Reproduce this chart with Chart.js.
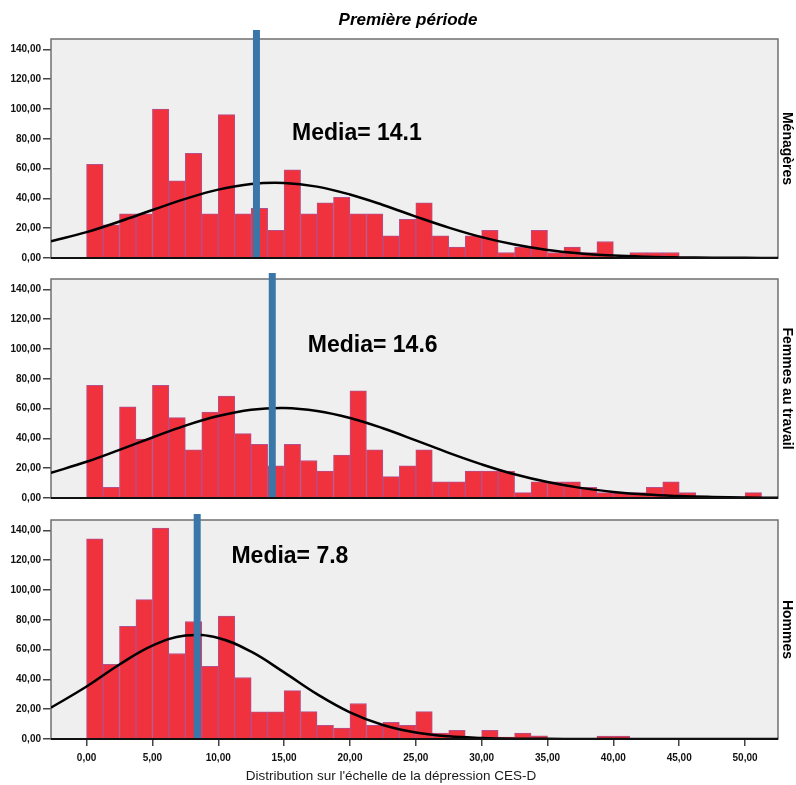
<!DOCTYPE html>
<html lang="fr">
<head>
<meta charset="utf-8">
<title>Première période</title>
<script src="https://cdn.jsdelivr.net/npm/chart.js@4.4.1/dist/chart.umd.min.js"></script>
<style>
  html, body { margin: 0; padding: 0; background: #fff; }
  #wrap { position: relative; width: 796px; height: 785px; }
  .panel { position: absolute; left: 0; width: 796px; }
</style>
</head>
<body>
<div id="wrap">
  <div class="panel" style="top:0;height:268px"><canvas id="c1" width="796" height="268"></canvas></div>
  <div class="panel" style="top:268px;height:240px"><canvas id="c2" width="796" height="240"></canvas></div>
  <div class="panel" style="top:508px;height:277px"><canvas id="c3" width="796" height="277"></canvas></div>
</div>
<script>
// bornes inférieures des classes (largeur 1,25)
const binStarts = [0, 1.25, 2.5, 3.75, 5, 6.25, 7.5, 8.75, 10, 11.25, 12.5, 13.75, 15, 16.25,
  17.5, 18.75, 20, 21.25, 22.5, 23.75, 25, 26.25, 27.5, 28.75, 30, 31.25, 32.5, 33.75, 35, 36.25,
  37.5, 38.75, 40, 41.25, 42.5, 43.75, 45, 46.25, 47.5, 48.75, 50, 51.25];

// effectifs par classe
const menageres = [62.9, 22.2, 29.6, 29.6, 99.9, 51.8, 70.3, 29.6, 96.2, 29.6, 33.3, 18.5, 59.2, 29.6,
  37.0, 40.7, 29.6, 29.6, 14.8, 25.9, 37.0, 14.8, 7.4, 14.8, 18.5, 3.7, 7.4, 18.5, 3.7, 7.4,
  3.7, 11.1, 0, 3.7, 3.7, 3.7, 0, 0, 0, 0, 0, 0];
const femmesTravail = [75.6, 7.2, 61.2, 39.6, 75.6, 54.0, 32.4, 57.6, 68.4, 43.2, 36.0, 21.6, 36.0, 25.2,
  18.0, 28.8, 72.0, 32.4, 14.4, 21.6, 32.4, 10.8, 10.8, 18.0, 18.0, 18.0, 3.6, 10.8, 10.8, 10.8,
  7.2, 3.6, 3.6, 3.6, 7.2, 10.8, 3.6, 0, 0, 0, 3.6, 0];
const hommes = [134.3, 50.2, 75.6, 93.5, 141.5, 57.4, 78.9, 48.7, 82.5, 41.3, 18.2, 18.2, 32.5, 18.4,
  9.2, 7.4, 23.8, 9.2, 11.2, 9.2, 18.4, 4.0, 5.8, 1.3, 5.8, 1.3, 4.0, 2.2, 0, 0,
  0, 2.0, 2.0, 0, 0, 0, 0, 0, 0, 0, 0, 0];

// courbe normale
const curveX = [-2.7, 0, 2.5, 5, 7.5, 10, 12.5, 15, 17.5, 20, 22.5, 25, 27.5, 30, 32.5, 35,
  37.5, 40, 42.5, 45, 47.5, 50, 52.5];
const curveMenageres = [11.2, 17.4, 24.5, 32.2, 39.7, 45.9, 49.7, 50.4, 47.9, 42.6, 35.6, 27.8,
  20.4, 14.0, 9.0, 5.4, 3.1, 1.6, 0.8, 0.4, 0.2, 0.1, 0];
const curveFemmes = [16.9, 24.3, 32.3, 40.6, 48.6, 55.0, 59.2, 60.4, 58.4, 53.7, 46.8, 38.7,
  30.3, 22.6, 15.9, 10.7, 6.8, 4.1, 2.3, 1.3, 0.7, 0.3, 0.2];
const curveHommes = [21.0, 35.2, 50.0, 62.7, 69.4, 67.8, 58.6, 44.7, 30.1, 17.9, 9.4, 4.4,
  1.8, 0.7, 0.2, 0.1, 0, 0, 0, 0, 0, 0, 0];

// position de la barre bleue (moyenne)
const meanLines = [12.9, 14.1, 8.4];
const mediaLabels = ['Media= 14.1', 'Media= 14.6', 'Media= 7.8'];
const panelNames = ['Ménagères', 'Femmes au travail', 'Hommes'];

const yTicks = [0, 20, 40, 60, 80, 100, 120, 140];
const xTicks = [0, 5, 10, 15, 20, 25, 30, 35, 40, 45, 50];

const X_MIN = -2.7, X_MAX = 52.5, Y_MAX = 147;
const fmt = v => v.toFixed(2).replace('.', ',');
const SANS = '"Liberation Sans", Arial, sans-serif';
const NARROW = '"Liberation Sans Narrow", "Arial Narrow", "Liberation Sans", Arial, sans-serif';

// fond gris, cadre, textes du panneau
const decor = {
  id: 'decor',
  beforeDraw(chart) {
    const { ctx, chartArea: a } = chart;
    ctx.save();
    ctx.fillStyle = '#efefef';
    ctx.fillRect(a.left, a.top, a.right - a.left, a.bottom - a.top);
    ctx.restore();
  },
  beforeDatasetsDraw(chart) {
    const { ctx, chartArea: a } = chart;
    ctx.save();
    ctx.strokeStyle = '#707070';
    ctx.lineWidth = 1.5;
    ctx.strokeRect(a.left, a.top, a.right - a.left, a.bottom - a.top);
    ctx.restore();
  },
  afterDraw(chart, args, opts) {
    const { ctx, chartArea: a, scales } = chart;
    ctx.save();
    ctx.strokeStyle = '#111';
    ctx.lineWidth = 2;
    ctx.beginPath();
    ctx.moveTo(a.left, a.bottom);
    ctx.lineTo(a.right, a.bottom);
    ctx.stroke();

    ctx.fillStyle = '#000';
    ctx.font = 'bold 23px ' + SANS;
    ctx.textAlign = 'left';
    ctx.textBaseline = 'alphabetic';
    ctx.fillText(opts.media, scales.x.getPixelForValue(opts.mediaAt[0]), scales.y.getPixelForValue(opts.mediaAt[1]));

    ctx.font = 'bold 14px ' + SANS;
    ctx.textAlign = 'center';
    ctx.textBaseline = 'middle';
    ctx.translate(787, (a.top + a.bottom) / 2);
    ctx.rotate(Math.PI / 2);
    ctx.fillText(opts.name, 0, 0);
    ctx.restore();

    if (opts.title) {
      ctx.save();
      ctx.fillStyle = '#000';
      ctx.font = 'italic bold 17px ' + SANS;
      ctx.textAlign = 'center';
      ctx.textBaseline = 'middle';
      ctx.fillText(opts.title, 408, 20);
      ctx.restore();
    }

    // titre de l'axe des x (décalé à gauche comme dans l'original)
    if (opts.xTitle) {
      ctx.save();
      ctx.fillStyle = '#1a1a1a';
      ctx.font = '13.5px ' + SANS;
      ctx.textAlign = 'center';
      ctx.textBaseline = 'middle';
      ctx.fillText(opts.xTitle, 391, a.bottom + 37);
      ctx.restore();
    }
  }
};

function makePanel(id, i, values, curve, cfg) {
  const ctx = document.getElementById(id).getContext('2d');
  return new Chart(ctx, {
    type: 'bar',
    data: {
      datasets: [
        {
          type: 'line',
          data: [{ x: meanLines[i], y: 0 }, { x: meanLines[i], y: cfg.lineTop }],
          borderColor: '#3a76a8',
          borderWidth: 7,
          borderCapStyle: 'butt',
          pointRadius: 0,
          clip: false,
          order: 1,
        },
        {
          type: 'line',
          data: curveX.map((x, k) => ({ x: x, y: curve[k] })),
          borderColor: '#000',
          borderWidth: 2.5,
          pointRadius: 0,
          tension: 0.4,
          fill: false,
          order: 2,
        },
        {
          type: 'bar',
          data: binStarts.map((b, k) => ({ x: b + 0.625, y: values[k] })),
          backgroundColor: '#ef323d',
          borderColor: '#b4508c',
          borderWidth: 1,
          borderSkipped: 'bottom',
          barPercentage: 1,
          categoryPercentage: 1,
          order: 3,
        },
      ],
    },
    options: {
      responsive: false,
      animation: false,
      events: [],
      layout: { padding: { left: 0, right: 18, top: cfg.padTop, bottom: cfg.padBottom } },
      scales: {
        x: {
          type: 'linear',
          min: X_MIN,
          max: X_MAX,
          offset: false,
          display: cfg.showX,
          afterBuildTicks: s => { s.ticks = xTicks.map(v => ({ value: v })); },
          afterFit: s => { if (cfg.showX) s.height = 46; },
          ticks: {
            callback: v => fmt(v),
            font: { family: NARROW, size: 10, weight: 'bold' },
            color: '#111',
            padding: 6,
            maxRotation: 0,
            autoSkip: false,
          },
          grid: { offset: false, drawOnChartArea: false, drawTicks: true, tickLength: 7, color: '#444', lineWidth: 1.5 },
          border: { display: false },
        },
        y: {
          min: 0,
          max: Y_MAX,
          afterBuildTicks: s => { s.ticks = yTicks.map(v => ({ value: v })); },
          afterFit: s => { s.width = 51; },
          ticks: {
            callback: v => fmt(v),
            font: { family: SANS, size: 10, weight: 'bold' },
            color: '#111',
            padding: 2,
          },
          grid: { drawOnChartArea: false, drawTicks: true, tickLength: 8, color: '#444', lineWidth: 1.5 },
          border: { display: false },
        },
      },
      plugins: {
        legend: { display: false },
        tooltip: { enabled: false },
        decor: {
          media: mediaLabels[i],
          mediaAt: cfg.mediaAt,
          name: panelNames[i],
          title: cfg.title,
          xTitle: cfg.xTitle,
        },
      },
    },
    plugins: [decor],
  });
}

makePanel('c1', 0, menageres, curveMenageres,
  { padTop: 39, padBottom: 10, showX: false, lineTop: 153, mediaAt: [15.6, 79.5], title: 'Première période' });
makePanel('c2', 1, femmesTravail, curveFemmes,
  { padTop: 11, padBottom: 10, showX: false, lineTop: 151, mediaAt: [16.8, 98.2] });
makePanel('c3', 2, hommes, curveHommes,
  { padTop: 12, padBottom: 0, showX: true, lineTop: 151, mediaAt: [11.0, 118.3],
    xTitle: "Distribution sur l'échelle de la dépression CES-D" });
</script>
</body>
</html>
